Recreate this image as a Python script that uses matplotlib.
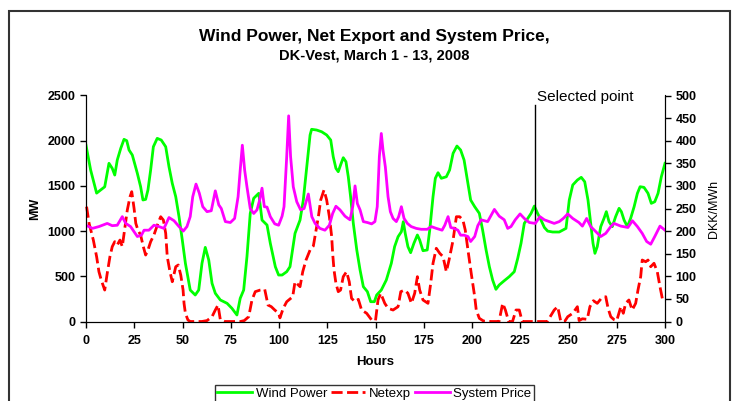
import matplotlib
matplotlib.use("Agg")
import matplotlib.pyplot as plt
from matplotlib.patches import Rectangle

plt.rcParams['font.family'] = ['Liberation Sans', 'DejaVu Sans']

title = "Wind Power, Net Export and System Price,"
subtitle = "DK-Vest, March 1 - 13, 2008"
x_ticks = [0, 25, 50, 75, 100, 125, 150, 175, 200, 225, 250, 275, 300]
mw_ticks = [0, 500, 1000, 1500, 2000, 2500]
price_ticks = [0, 50, 100, 150, 200, 250, 300, 350, 400, 450, 500]
selected_hour = 232.5
selected_label = "Selected point"

wind_h = [0, 2.4, 5.5, 7.6, 9.7, 11.9, 13.6, 14.9, 16.2, 18, 19.7, 21.1, 22.3, 24, 26.6, 28.3, 29.5, 30.9,
          32.1, 33.5, 34.9, 36.9, 39, 41.3, 43, 44.7, 46.5, 48.2, 49.9, 51.5, 54, 56.6, 58.4, 60.1, 61.8,
          63.6, 65.3, 67, 69.6, 73.1, 75.6, 78.2, 79.9, 81.7, 83.4, 85.1, 86.9, 89.5, 91.2, 93.8, 95.5,
          98.1, 99.8, 101.6, 104, 105.7, 108.3, 110.9, 112.6, 114.4, 116.1, 116.9, 119.5, 122.1, 124.7,
          126.8, 128.1, 129.5, 130.7, 131.9, 133.3, 134.7, 135.9, 137.1, 138.5, 140.3, 142, 143.7, 145.8,
          147.5, 149.4, 150.6, 153, 155.6, 158.2, 159.9, 161.7, 163.4, 164.4, 165.4, 166.8, 168.2, 169.9,
          171.7, 172.9, 174.6, 176.8, 178.1, 179.8, 181, 182.4, 184.1, 186.7, 188.4, 190.2, 192.2, 194.1,
          195.9, 197.6, 199.3, 201.4, 203.8, 205.5, 207.3, 209, 210.7, 212.4, 214.1, 216.7, 219.3, 221.9,
          223.7, 225.4, 227.1, 228.9, 230.6, 232.3, 234, 235.8, 237.5, 239.2, 241.8, 245.2, 248.7, 250.4,
          252.2, 254.6, 256.6, 258.4, 260.1, 261.5, 262.7, 263.7, 264.9, 266.7, 268.4, 269.6, 271, 272.7,
          274.4, 276.2, 277.4, 278.8, 280.5, 282.2, 284, 285.7, 287.1, 289.1, 291.2, 292.9, 294.7, 296.4,
          298.1, 300]
wind_mw = [1950, 1676, 1420, 1455, 1490, 1750, 1694, 1620, 1786, 1915, 2015, 2000, 1897, 1841, 1639, 1491, 1344, 1351,
           1455, 1676, 1933, 2026, 2007, 1933, 1712, 1528, 1380, 1159, 901, 644, 348, 293, 348, 644, 820,
           680, 422, 312, 238, 201, 146, 72, 256, 348, 717, 1196, 1363, 1418, 1122, 1067, 865,
           606, 514, 514, 551, 606, 975, 1122, 1344, 1712, 2063, 2126, 2118, 2099, 2063,
           2007, 1823, 1694, 1657, 1731, 1812, 1767, 1601, 1380, 1086, 791, 570, 385, 330,
           219, 219, 293, 348, 459, 644, 828, 938, 993, 1104, 975, 828, 761, 865,
           957, 901, 783, 791, 1012, 1380, 1584, 1646, 1584, 1601, 1676, 1860, 1941, 1897,
           1786, 1565, 1344, 1270, 1196, 1012, 791, 606, 459, 356, 404, 451, 496, 551,
           699, 865, 1086, 1141, 1196, 1277, 1196, 1120, 1040, 1000, 990, 990, 1030, 1344,
           1510, 1565, 1595, 1546, 1344, 1086, 865, 754, 828, 1049, 1141, 1215, 1104, 1049,
           1159, 1252, 1215, 1122, 1049, 1141, 1270, 1418, 1491, 1484, 1418, 1307, 1325, 1418,
           1601, 1750]

netexp_h = [0.3, 1.6, 3.8, 5.5, 6.7, 7.9, 9.7, 11, 12.4, 13.6, 14.9, 16.2, 17.6, 18.8, 20, 21.4, 22.8, 23.7,
            24.9, 25.8, 26.9, 28.3, 29.7, 30.9, 32.1, 33.5, 35.2, 37.3, 38.7, 40.1, 41.3, 42.1, 43.5, 44.7,
            46.5, 47.8, 49.1, 50.3, 50.8, 51.5, 52.8, 54, 56, 58, 60, 62.7, 65.3, 67, 68.4, 69.6, 72, 75,
            78.2, 80, 82, 84.3, 86, 87.7, 90.3, 92.6, 94.3, 96, 97.8, 99.8, 100.5, 102.2, 104, 107.1, 108.3,
            110.9, 112.3, 114, 116.1, 117.8, 119.2, 120.4, 121.6, 123.3, 124.7, 126.1, 127.3, 127.8, 128.5,
            129.5, 130.7, 131.9, 133.3, 135, 136.4, 137.6, 139.4, 141.1, 142.8, 145.4, 148, 150, 151.3,
            152.7, 154.8, 156.5, 159.1, 161.7, 163.1, 165.1, 166.8, 168.6, 170.3, 171.7, 172.9, 174.6,
            177.2, 178.6, 179.8, 181.5, 183.3, 185, 186.7, 188.1, 190.2, 191.9, 193.6, 195.3, 196.5, 197.9,
            199.6, 201.4, 202.2, 203.8, 206, 210, 214, 215.9, 217.3, 219, 221, 222.8, 224.5, 226, 230, 234,
            239, 242.6, 244.4, 246, 248, 249.6, 252.2, 254.6, 255.5, 257.2, 259.7, 261.1, 262.9, 264.9, 267,
            269.3, 270.5, 271.9, 273.6, 275, 277.1, 278.4, 279.6, 281.3, 283, 284.8, 286, 287.4, 288.2, 290,
            291.2, 292.6, 294.3, 296, 297.4, 298.6, 300]
netexp_mw = [1270, 1086, 901, 717, 551, 459, 348, 533, 717, 828, 883, 846, 901, 828, 1012, 1233, 1380, 1436,
             1252, 1086, 1012, 957, 828, 735, 791, 883, 957, 1086, 1159, 1122, 975, 717, 551, 440,
             606, 625, 514, 348, 200, 91, 17, 0, 0, 0, 0, 10, 53, 127, 182, 20, 0, 0,
             0, 0, 10, 53, 238, 330, 348, 356, 182, 164, 127, 91, 40, 146, 219, 274, 440,
             385, 551, 680, 791, 835, 1012, 1159, 1344, 1454, 1344, 1159, 938, 754, 570,
             422, 330, 348, 496, 551, 440, 256, 219, 245, 127, 91, 17, 10, 238,
             312, 201, 146, 127, 164, 330, 348, 312, 201, 312, 496, 348, 238,
             201, 422, 644, 810, 754, 717, 551, 680, 901, 1159, 1159, 1122, 1012, 791,
             533, 274, 127, 35, 5, 0, 0, 201, 127, 0, 0, 127, 127, 0, 0, 0,
             0, 127, 164, 0, 0, 53, 91, 164, 10, 30, 24, 164, 230, 201, 256,
             274, 146, 53, 20, 10, 164, 91, 201, 238, 127, 201, 348, 496, 680, 661,
             680, 606, 644, 551, 385, 256, 256]

price_h = [0, 3.3, 6.7, 11, 13.6, 16.2, 18.8, 20.6, 23.1, 26.6, 28.7, 30.1, 32.6, 35.2, 37.8, 40.4, 43, 45.6,
           48.2, 50.4, 52.3, 54, 55.3, 57, 58.7, 60.5, 62.7, 64.9, 67, 68.8, 70.1, 72.2, 74.8, 77, 78.8,
           79.9, 81, 82.2, 83.4, 85.1, 86.9, 88.6, 90, 91.2, 92.4, 93.8, 95.5, 97.8, 99.8, 101.6, 102.6, 104,
           105, 106, 107.4, 109.2, 111.2, 113, 115.2, 117, 118.7, 121.2, 123.8, 126.1, 127.8, 129.5, 131.6,
           134.2, 136.8, 138.2, 139.4, 140.6, 142, 143.7, 145.8, 148, 149.7, 150.9, 152, 153, 153.9, 155.1,
           156.5, 157.7, 159.1, 160.8, 162, 163.4, 164.8, 166.5, 168.5, 171.1, 173.7, 176.8, 178.9, 181.5,
           184.5, 185.9, 187.6, 189, 190.7, 192.7, 194.1, 195.9, 197.9, 199.3, 201.4, 203, 204.7, 208.1,
           211.6, 214.1, 216.7, 218.5, 220.2, 222.4, 224.9, 227.1, 229.7, 232.8, 235.2, 237.5, 240, 242.6,
           245.2, 247.3, 249.6, 252.2, 255.4, 257.2, 259.4, 261.5, 264.1, 266.7, 269.3, 271.9, 273.6, 277.1,
           280.8, 283.1, 285.7, 288.2, 290.5, 292.6, 294.7, 297.4, 300]
price_dkk = [213, 206, 210, 217, 212, 213, 232, 217, 210, 188, 191, 202, 202, 213, 210, 206, 230, 223,
             210, 200, 210, 232, 276, 304, 284, 254, 243, 245, 289, 258, 250, 221, 219, 228, 276,
             335, 390, 335, 298, 250, 239, 247, 269, 295, 254, 253, 232, 216, 213, 233, 254, 365,
             455, 365, 298, 265, 247, 250, 282, 232, 217, 206, 202, 213, 239, 255, 247,
             233, 225, 254, 300, 261, 247, 221, 219, 216, 221, 254, 365, 416, 379, 342,
             276, 243, 228, 221, 232, 254, 228, 217, 210, 206, 204, 204, 210, 206,
             202, 213, 232, 208, 206, 202, 191, 191, 188, 177, 188, 212, 225, 221,
             248, 233, 225, 206, 210, 225, 238, 228, 219, 217, 232, 225, 221, 217,
             221, 228, 238, 228, 219, 211, 228, 210, 199, 188, 195, 210, 217, 211,
             208, 223, 210, 195, 177, 171, 188, 211, 202]

W, H = 739, 401
fig = plt.figure(figsize=(W / 100, H / 100), dpi=100)
fig.patch.set_facecolor('white')

# outer chart border
fig.patches.append(Rectangle((9 / W, -0.1), 721 / W, 1.1 - 11 / H, transform=fig.transFigure,
                             fill=False, edgecolor='#333333', linewidth=1.5))

ax = fig.add_axes([86 / W, 1 - 321.5 / H, (665 - 86) / W, (321.5 - 95.5) / H])
ax2 = ax.twinx()

ax.plot(wind_h, wind_mw, color='#00FF00', lw=2.0, label='Wind Power', zorder=3)
ax.plot(netexp_h, netexp_mw, color='#FF0000', lw=2.0, dashes=(4.0, 1.6), label='Netexp', zorder=2,
        clip_on=False)
ax2.plot(price_h, price_dkk, color='#FF00FF', lw=2.0, label='System Price')

ax.plot([selected_hour, selected_hour], [0, 2395], color='black', lw=1.0, zorder=4)
ax.text(233.8, 2485, selected_label, fontsize=11, va='center', ha='left')

ax.set_xlim(0, 300)
ax.set_ylim(0, 2500)
ax2.set_ylim(0, 500)
ax.set_xticks(x_ticks)
ax.set_yticks(mw_ticks)
ax2.set_yticks(price_ticks)

for a in (ax, ax2):
    a.spines['top'].set_visible(False)
    a.tick_params(direction='out', length=4, width=1, labelsize=9)
    for lbl in a.get_xticklabels() + a.get_yticklabels():
        lbl.set_fontweight('bold')
ax.tick_params(axis='x', pad=6)

ax.set_xlabel('Hours', fontsize=9.5, fontweight='bold', labelpad=6)
ax.set_ylabel('MW', fontsize=9, fontweight='bold', labelpad=5)
ax2.set_ylabel('DKK/MWh', fontsize=9, labelpad=8)

fig.text(374 / W, 1 - 37 / H, title, ha='center', va='center', fontsize=12.5, fontweight='bold')
fig.text(374 / W, 1 - 56 / H, subtitle, ha='center', va='center', fontsize=10.5, fontweight='bold')

handles = ax.get_lines()[:2] + ax2.get_lines()
leg = fig.legend(handles, [h.get_label() for h in handles], loc='upper center', ncol=3,
                 bbox_to_anchor=(374.5 / W, 1 - 385 / H), fontsize=9.5, frameon=True, fancybox=False,
                 edgecolor='black', handlelength=2.6, columnspacing=0.3, handletextpad=0.3,
                 borderpad=0.2, borderaxespad=0)
leg.get_frame().set_linewidth(1.0)

fig.savefig('out.png', dpi=100)
